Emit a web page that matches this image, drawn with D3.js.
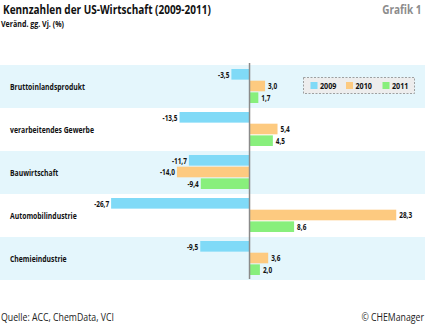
<!DOCTYPE html>
<html>
<head>
<meta charset="utf-8">
<script src="https://cdn.jsdelivr.net/npm/d3@7"></script>
<style>
  body { margin: 0; background: #fff; }
  svg { display: block; }
  text { font-family: "Open Sans", "DejaVu Sans", sans-serif; }
</style>
</head>
<body>
<div id="chart"></div>
<script>
// data
let categories = ['Bruttoinlandsprodukt', 'verarbeitendes Gewerbe', 'Bauwirtschaft', 'Automobilindustrie', 'Chemieindustrie'];
let years = ['2009', '2010', '2011'];
let values2009 = [-3.5, -13.5, -11.7, -26.7, -9.5];
let values2010 = [3.0, 5.4, -14.0, 28.3, 3.6];
let values2011 = [1.7, 4.5, -9.4, 8.6, 2.0];
let colors = ['#80daf7', '#fdca80', '#88ef7c'];

let width = 425, height = 324;

let svg = d3.select('#chart').append('svg')
  .attr('width', width)
  .attr('height', height);

// the original uses a condensed font, so squeeze text horizontally
function probeWidth(str, size, weight) {
  let t = svg.append('text')
    .attr('font-size', size)
    .attr('font-weight', weight)
    .text(str);
  let w = t.node().getComputedTextLength();
  t.remove();
  return w;
}

function addText(parent, x, y, str, size, weight, sx, anchor, fill) {
  return parent.append('text')
    .attr('transform', 'translate(' + x + ',' + y + ') scale(' + sx + ',1)')
    .attr('font-size', size)
    .attr('font-weight', weight)
    .attr('text-anchor', anchor || 'start')
    .attr('fill', fill || '#111')
    .text(str);
}

let x = d3.scaleLinear()
  .domain([-30, 33])
  .range([94, 420.6]);

let y = d3.scaleBand()
  .domain(categories)
  .range([65, 280]);

let yInner = d3.scaleBand()
  .domain(years)
  .range([4, y.bandwidth() - 5])
  .paddingInner(0.09);

// background bands
svg.selectAll('rect.band')
  .data(categories)
  .enter()
  .append('rect')
  .attr('class', 'band')
  .attr('x', 0)
  .attr('y', d => y(d))
  .attr('width', width)
  .attr('height', y.bandwidth())
  .attr('fill', (d, i) => i % 2 == 0 ? '#e4f6fc' : '#ffffff');

// category labels
let catSize = 9.5;
let sxCat = 75 / probeWidth('Bruttoinlandsprodukt', catSize, 'bold');
categories.forEach(c => {
  addText(svg, 10, y(c) + y.bandwidth() / 2 + 3.8, c, catSize, 'bold', sxCat);
});

// bars
let rows = [];
categories.forEach((c, i) => {
  [values2009, values2010, values2011].forEach((vals, k) => {
    rows.push({ cat: c, year: years[k], value: vals[i], color: colors[k] });
  });
});

let fmt = v => d3.format('.1f')(v).replace('.', ',').replace('−', '-');

svg.selectAll('rect.bar')
  .data(rows)
  .enter()
  .append('rect')
  .attr('class', 'bar')
  .attr('x', d => x(Math.min(0, d.value)))
  .attr('y', d => y(d.cat) + yInner(d.year))
  .attr('width', d => Math.abs(x(d.value) - x(0)))
  .attr('height', yInner.bandwidth())
  .attr('fill', d => d.color);

let valSize = 8.5;
let sxVal = 15 / probeWidth('-14,0', valSize, 'bold');
rows.forEach(d => {
  let tx = d.value < 0 ? x(d.value) - 2 : x(d.value) + 3;
  let ty = y(d.cat) + yInner(d.year) + yInner.bandwidth() / 2 + 3.2;
  addText(svg, tx, ty, fmt(d.value), valSize, 'bold', sxVal, d.value < 0 ? 'end' : 'start');
});

// zero line
svg.append('line')
  .attr('x1', x(0)).attr('x2', x(0))
  .attr('y1', 63).attr('y2', 279)
  .attr('stroke', '#8a8a8a')
  .attr('stroke-width', 1.5);

// legend
let legend = svg.append('g').attr('transform', 'translate(303.5,77.5)');
legend.append('rect')
  .attr('width', 111).attr('height', 16)
  .attr('fill', '#ededed')
  .attr('stroke', '#8a8a8a')
  .attr('stroke-width', 0.8)
  .attr('stroke-dasharray', '2,1.5');
let legX = [7, 42.5, 79];
let legSize = 8.5;
let sxLeg = 16.5 / probeWidth('2009', legSize, 'bold');
years.forEach((yr, i) => {
  legend.append('rect')
    .attr('x', legX[i]).attr('y', 4.5)
    .attr('width', 7).attr('height', 7)
    .attr('fill', colors[i]);
  addText(legend, legX[i] + 9.5, 11.5, yr, legSize, 'bold', sxLeg);
});

// titles
let titleSize = 12.5;
let sxTitle = 208 / probeWidth('Kennzahlen der US-Wirtschaft (2009-2011)', titleSize, 'bold');
addText(svg, 3, 13.5, 'Kennzahlen der US-Wirtschaft (2009-2011)', titleSize, 'bold', sxTitle);
addText(svg, 421.5, 13.5, 'Grafik 1', titleSize, 'bold', sxTitle, 'end', '#8c8c8c');

let sxSub = 63 / probeWidth('Veränd. gg. Vj. (%)', 8, 'bold');
addText(svg, 1, 26.5, 'Veränd. gg. Vj. (%)', 8, 'bold', sxSub);

// footer
let footSize = 10.5;
let sxFoot = 113 / probeWidth('Quelle: ACC, ChemData, VCI', footSize, 'normal');
addText(svg, 1, 321, 'Quelle: ACC, ChemData, VCI', footSize, 'normal', sxFoot, 'start', '#222');
addText(svg, 424, 321, '© CHEManager', footSize, 'normal', sxFoot, 'end', '#222');
</script>
</body>
</html>
